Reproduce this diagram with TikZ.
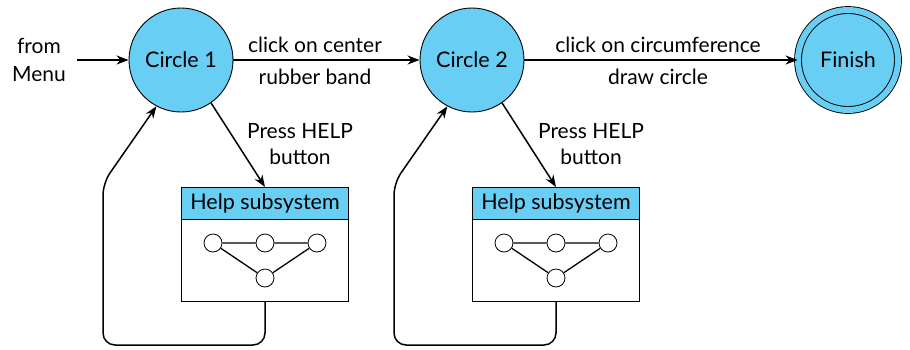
\documentclass[tikz,border=0pt]{standalone}
\usepackage{fontspec}
\setmainfont{Lato}
\usetikzlibrary{arrows.meta}
\definecolor{stateblue}{RGB}{104,206,244}
\tikzset{
  state/.style={circle, draw=black, line width=0.9pt, fill=stateblue, minimum size=104pt, inner sep=0pt, font=\fontsize{21.5}{24}\selectfont},
  finalstate/.style={state, double=stateblue, double distance=6pt, minimum size=100pt},
  conn/.style={line width=1.5pt, -{Stealth[length=12pt,width=9pt]}},
  lbl/.style={font=\fontsize{21}{24}\selectfont, inner sep=0pt},
  helpbox/.style={draw=black, line width=0.8pt, fill=white, minimum width=167pt, minimum height=114pt, inner sep=0pt},
  helphead/.style={draw=black, line width=0.8pt, fill=stateblue, minimum width=167pt, minimum height=32pt, inner sep=0pt, font=\fontsize{21.5}{24}\selectfont},
  mini/.style={circle, draw=black, line width=0.8pt, fill=white, minimum size=18pt, inner sep=0pt},
  miniedge/.style={line width=1.3pt},
}
\begin{document}
\begin{tikzpicture}[x=1pt,y=-1pt]
\useasboundingbox (0,0) rectangle (910,349);
% states
\node[state] (c1) at (181,60) {Circle 1};
\node[state] (c2) at (472,60) {Circle 2};
\node[finalstate] (fin) at (848,60) {Finish};
\node[lbl, align=center, font=\fontsize{21}{28}\selectfont] (menu) at (39,60) {from\\Menu};
\coordinate (menuend) at (77,60);
% main arrows
\draw[conn] (menuend) -- (c1);
\draw[conn] (c1) -- (c2);
\draw[conn] (c2) -- (fin);
\node[lbl] (l1) at (315,45) {click on center};
\node[lbl] (l2) at (315,77) {rubber band};
\node[lbl] (l3) at (658,45) {click on circumference};
\node[lbl] (l4) at (658,77) {draw circle};
% help boxes
\foreach \i/\cx/\hx in {1/181/265, 2/472/556} {
  \node[helpbox, anchor=north] (hb\i) at (\hx,187) {};
  \node[helphead, anchor=north] (hh\i) at (\hx,187) {Help subsystem};
  \node[mini] (ma\i) at (\hx-52,243) {};
  \node[mini] (mb\i) at (\hx,243) {};
  \node[mini] (mc\i) at (\hx+52,243) {};
  \node[mini] (md\i) at (\hx,278) {};
  \draw[miniedge] (ma\i) -- (mb\i) (mb\i) -- (mc\i) (ma\i) -- (md\i) (md\i) -- (mc\i);
  \node[lbl] (ph\i) at (\hx+35,131) {Press HELP};
  \node[lbl] (pb\i) at (\hx+35,157) {button};
  \draw[conn] (c\i.{-55}) -- (hh\i.north);
  \coordinate (r\i a) at (\hx,345);
  \coordinate (r\i b) at (\hx-162,345);
  \coordinate (r\i c) at (\hx-162,183);
  \draw[conn, rounded corners=12pt] (hb\i.south) -- (r\i a) -- (r\i b) -- (r\i c) -- (c\i.{-118});
}
\end{tikzpicture}
\end{document}
